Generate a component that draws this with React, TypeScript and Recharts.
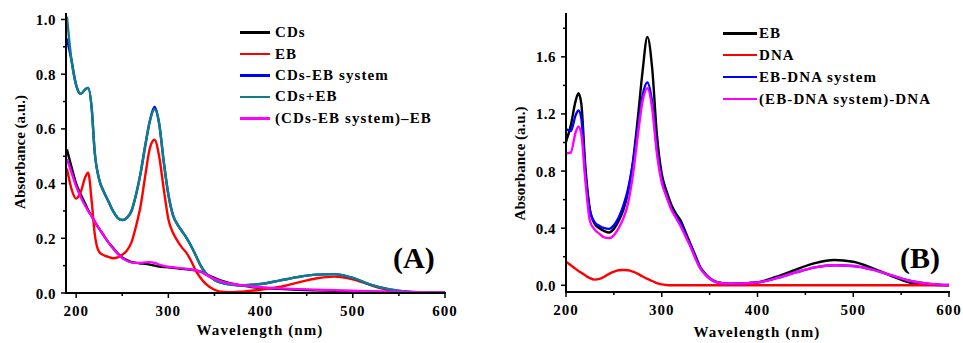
import React from 'react';
import { LineChart, Line, XAxis, YAxis, Legend } from 'recharts';

const FONT = '"Liberation Serif", "Times New Roman", serif';

// ---------- Panel A ----------
const wavelengthA = [190,195,200,205,210,213,217,220,225,230,235,240,245,250,255,260,265,270,275,280,285,290,295,300,305,310,315,320,325,330,335,340,350,360,370,380,390,400,420,440,460,480,500,520,540,560,580,600];
const cdsA = [.525,.46,.40,.36,.325,.303,.28,.262,.235,.21,.185,.165,.145,.13,.12,.113,.11,.108,.107,.104,.10,.097,.095,.094,.092,.09,.088,.087,.085,.082,.078,.07,.055,.042,.033,.027,.022,.019,.015,.012,.01,.008,.006,.005,.004,.003,.002,.001];
const ebA = [.455,.38,.345,.37,.425,.44,.33,.22,.15,.138,.132,.127,.13,.14,.155,.185,.245,.32,.43,.53,.56,.50,.38,.27,.22,.19,.165,.145,.115,.08,.055,.035,.012,.004,.003,.005,.008,.012,.022,.038,.053,.06,.05,.028,.01,.004,.001,0];
const sysA = [.93,.85,.76,.728,.745,.75,.67,.52,.415,.37,.335,.30,.275,.267,.275,.30,.36,.44,.54,.63,.68,.62,.48,.36,.285,.25,.225,.20,.17,.135,.10,.075,.048,.035,.03,.028,.03,.033,.045,.058,.067,.069,.055,.03,.013,.005,.002,0];
const sumA = [1.01,.85,.76,.728,.745,.75,.67,.52,.415,.37,.335,.30,.275,.267,.275,.30,.36,.44,.54,.63,.672,.62,.48,.36,.285,.25,.225,.20,.17,.135,.10,.075,.048,.035,.03,.028,.03,.033,.045,.058,.067,.069,.055,.03,.013,.005,.002,0];
const diffA = [.49,.44,.39,.35,.318,.30,.28,.262,.235,.21,.185,.163,.143,.128,.118,.112,.11,.11,.112,.113,.11,.104,.099,.096,.094,.092,.09,.088,.086,.083,.078,.068,.052,.04,.033,.028,.024,.021,.017,.014,.012,.01,.008,.006,.004,.003,.002,.001];
const xTicksA = [200,250,300,350,400,450,500,550,600];
const yTicksA = [0,0.1,0.2,0.3,0.4,0.5,0.6,0.7,0.8,0.9,1.0];
const legendA = [
  { key: 'cds', label: 'CDs', color: '#000000' },
  { key: 'eb', label: 'EB', color: '#ff0000' },
  { key: 'sys', label: 'CDs-EB system', color: '#0000ff' },
  { key: 'sum', label: 'CDs+EB', color: '#0f7f86' },
  { key: 'diff', label: '(CDs-EB system)\u2013EB', color: '#ff00ff' },
];

// ---------- Panel B ----------
const wavelengthB = [200,205,210,213,216,220,225,230,235,240,245,250,255,260,265,270,275,280,285,290,295,300,305,310,315,320,325,330,335,340,345,350,355,360,370,380,390,400,420,440,460,480,500,520,540,560,580,600];
const ebB = [1.005,1.12,1.29,1.345,1.27,.85,.53,.43,.40,.38,.37,.395,.45,.53,.66,.87,1.17,1.50,1.74,1.52,1.05,.78,.66,.565,.50,.45,.37,.29,.21,.13,.085,.05,.03,.018,.01,.012,.015,.02,.06,.11,.155,.177,.165,.12,.065,.018,.005,0];
const dnaB = [.165,.14,.115,.10,.088,.07,.05,.04,.045,.06,.08,.095,.105,.107,.105,.095,.08,.062,.045,.03,.015,.006,.002,0,0,0,0,0,0,0,0,0,0,0,0,0,0,0,0,0,0,0,0,0,0,0,0,0];
const sysB = [1.095,1.08,1.19,1.225,1.17,.80,.52,.44,.415,.40,.395,.42,.475,.56,.68,.86,1.10,1.33,1.42,1.28,.95,.74,.63,.54,.48,.43,.355,.28,.20,.125,.08,.048,.028,.018,.012,.012,.015,.02,.05,.09,.125,.14,.135,.11,.07,.03,.01,.002];
const diffB = [.925,.93,1.07,1.11,1.06,.75,.45,.39,.36,.335,.33,.35,.40,.47,.58,.78,1.05,1.29,1.38,1.24,.92,.72,.62,.53,.47,.41,.34,.27,.19,.12,.078,.047,.028,.018,.012,.012,.015,.02,.05,.09,.125,.14,.135,.11,.07,.03,.01,.002];
const xTicksB = [200,250,300,350,400,450,500,550,600];
const yTicksB = [0,0.2,0.4,0.6,0.8,1.0,1.2,1.4,1.6,1.8];
const legendB = [
  { key: 'eb', label: 'EB', color: '#000000' },
  { key: 'dna', label: 'DNA', color: '#ff0000' },
  { key: 'sys', label: 'EB-DNA system', color: '#0000ff' },
  { key: 'diff', label: '(EB-DNA system)-DNA', color: '#ff00ff' },
];

const dataA = wavelengthA.map((w, i) => ({ w, cds: cdsA[i], eb: ebA[i], sys: sysA[i], sum: sumA[i], diff: diffA[i] }));
const dataB = wavelengthB.map((w, i) => ({ w, eb: ebB[i], dna: dnaB[i], sys: sysB[i], diff: diffB[i] }));

const axisLine = { stroke: '#000', strokeWidth: 2, strokeLinecap: 'square' as const };
const labelStyle = { fontFamily: FONT, fontWeight: 700, fontSize: 15, fill: '#000' };

const makeXTick = (majorStep: number) => (props: any) => {
  const { x, y, payload } = props;
  const v = Math.round(payload.value);
  const major = v % majorStep === 0;
  return (
    <g>
      <line x1={x} x2={x} y1={y} y2={y + (major ? 5 : 3)} stroke="#000" strokeWidth={1.5} />
      {major && (
        <text x={x} y={y + 22.5} textAnchor="middle" {...labelStyle} letterSpacing={1}>
          {v}
        </text>
      )}
    </g>
  );
};

const makeYTick = (majorEvery: number) => (props: any) => {
  const { x, y, payload } = props;
  const tenths = Math.round(payload.value * 10);
  const major = tenths % majorEvery === 0;
  return (
    <g>
      <line x1={x} x2={x - (major ? 5 : 3)} y1={y} y2={y} stroke="#000" strokeWidth={1.5} />
      {major && (
        <text x={x - 10} y={y + 5.5} textAnchor="end" {...labelStyle} letterSpacing={0.5}>
          {payload.value.toFixed(1)}
        </text>
      )}
    </g>
  );
};

const makeLegend = (items: { label: string; color: string }[], lineW: number, gap: number, rowH: number) => () => (
  <div style={{ fontFamily: FONT, fontWeight: 700, fontSize: 15, letterSpacing: 1.1, color: '#000' }}>
    {items.map((it) => (
      <div key={it.label} style={{ display: 'flex', alignItems: 'center', height: rowH, whiteSpace: 'nowrap' }}>
        <span style={{ display: 'inline-block', width: lineW, height: 2.5, background: it.color, marginRight: gap }} />
        <span style={{ lineHeight: 1 }}>{it.label}</span>
      </div>
    ))}
  </div>
);

export default function App() {
  return (
    <div style={{ position: 'absolute', left: 0, top: 0, width: 963, height: 343, background: '#fff', overflow: 'hidden' }}>
      <div style={{ position: 'absolute', left: 0, top: 0 }}>
        <LineChart width={480} height={343} data={dataA} margin={{ top: 14, right: 35, bottom: 20, left: 0 }}>
          <XAxis dataKey="w" type="number" domain={[189, 600]} allowDataOverflow ticks={xTicksA} interval={0}
            tickSize={0} tickMargin={0} tickLine={false} tick={makeXTick(100)} axisLine={axisLine} height={30} />
          <YAxis type="number" domain={[0, 1.02]} allowDataOverflow ticks={yTicksA} interval={0}
            tickSize={0} tickMargin={0} tickLine={false} tick={makeYTick(2)} axisLine={axisLine} width={66} />
          <XAxis xAxisId="top" orientation="top" dataKey="w" type="number" domain={[189, 600]} allowDataOverflow
            tick={false} tickLine={false} axisLine={axisLine} height={0} />
          <YAxis yAxisId="right" orientation="right" type="number" domain={[0, 1.02]} allowDataOverflow
            tick={false} tickLine={false} axisLine={axisLine} width={0} />
          <Legend layout="vertical" align="center" verticalAlign="middle"
            wrapperStyle={{ left: 240, top: 22, width: 'auto', height: 'auto' }}
            content={makeLegend(legendA, 30, 5, 21.4)} />
          {legendA.map((s) => (
            <Line key={s.key} dataKey={s.key} name={s.label} type="monotone" stroke={s.color} strokeWidth={2.4}
              dot={false} activeDot={false} isAnimationActive={false} />
          ))}
        </LineChart>
      </div>
      <div style={{ position: 'absolute', left: 480, top: 0 }}>
        <LineChart width={483} height={343} data={dataB} margin={{ top: 14, right: 14, bottom: 21, left: 0 }}>
          <XAxis dataKey="w" type="number" domain={[200, 600]} allowDataOverflow ticks={xTicksB} interval={0}
            tickSize={0} tickMargin={0} tickLine={false} tick={makeXTick(100)} axisLine={axisLine} height={30} />
          <YAxis type="number" domain={[-0.047, 1.9]} allowDataOverflow ticks={yTicksB} interval={0}
            tickSize={0} tickMargin={0} tickLine={false} tick={makeYTick(4)} axisLine={axisLine} width={86} />
          <XAxis xAxisId="top" orientation="top" dataKey="w" type="number" domain={[200, 600]} allowDataOverflow
            tick={false} tickLine={false} axisLine={axisLine} height={0} />
          <YAxis yAxisId="right" orientation="right" type="number" domain={[-0.047, 1.9]} allowDataOverflow
            tick={false} tickLine={false} axisLine={axisLine} width={0} />
          <Legend layout="vertical" align="center" verticalAlign="middle"
            wrapperStyle={{ left: 243, top: 22.4, width: 'auto', height: 'auto' }}
            content={makeLegend(legendB, 34, 2, 21.9)} />
          {legendB.map((s) => (
            <Line key={s.key} dataKey={s.key} name={s.label} type="monotone" stroke={s.color} strokeWidth={2.4}
              dot={false} activeDot={false} isAnimationActive={false} />
          ))}
        </LineChart>
      </div>
      <svg width={963} height={343} style={{ position: 'absolute', left: 0, top: 0, pointerEvents: 'none' }}>
        <text transform="translate(20,152) rotate(-90)" textAnchor="middle" dominantBaseline="central" {...labelStyle}>Absorbance (a.u.)</text>
        <text x={260} y={330} textAnchor="middle" dominantBaseline="central" {...labelStyle} letterSpacing={1.1}>Wavelength (nm)</text>
        <text transform="translate(520,163.5) rotate(-90)" textAnchor="middle" dominantBaseline="central" {...labelStyle}>Absorbance (a.u.)</text>
        <text x={757} y={332} textAnchor="middle" dominantBaseline="central" {...labelStyle} letterSpacing={1.1}>Wavelength (nm)</text>
        <text x={393} y={268} fontFamily={FONT} fontWeight={700} fontSize={30} fill="#000">(A)</text>
        <text x={900} y={268} fontFamily={FONT} fontWeight={700} fontSize={30} fill="#000">(B)</text>
      </svg>
    </div>
  );
}
